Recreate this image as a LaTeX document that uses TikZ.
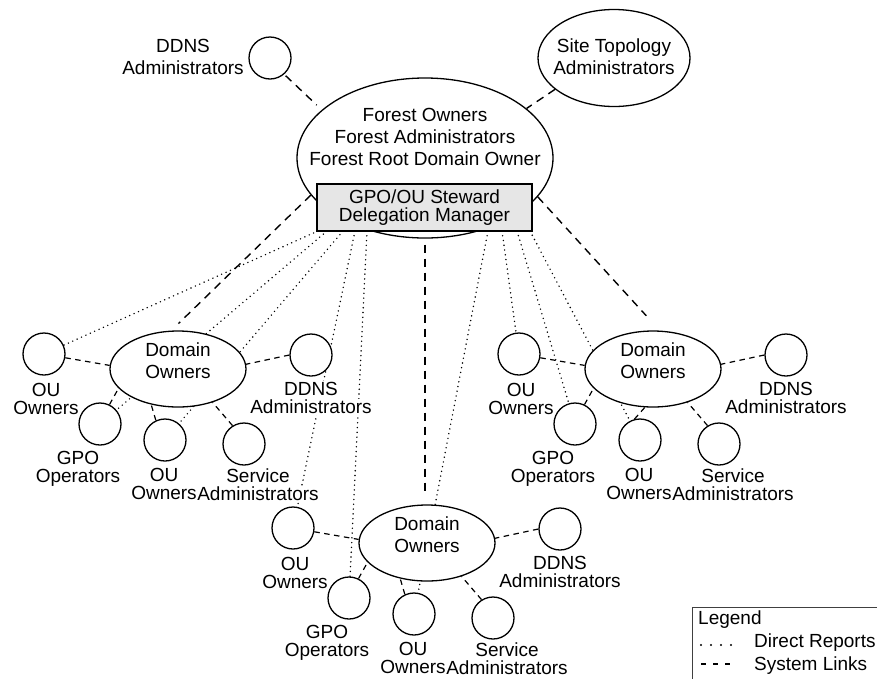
\documentclass[tikz,border=0pt]{standalone}
\usepackage{fontspec}
\setmainfont{Liberation Sans}
\usetikzlibrary{shapes.geometric}
\pgfdeclarelayer{bg}
\pgfsetlayers{bg,main}
\definecolor{boxfill}{HTML}{E6E6E6}
% one label line on a white patch, so dotted lines pass behind the text
\newcommand\wl[1]{{\fboxsep=1pt\colorbox{white}{#1}}}

\tikzset{
  shape line/.style={draw=black, line width=1.3pt, fill=white},
  circ/.style={shape line, circle, minimum size=42pt, inner sep=0pt},
  oval/.style={shape line, ellipse, inner sep=0pt},
  intext/.style={align=center, inner sep=0pt, font=\fontsize{19}{22}\selectfont},
  glabel/.style={align=center, inner sep=0pt, anchor=north, font=\fontsize{19}{18}\selectfont},
  report/.style={line width=1.6pt, line cap=round, dash pattern=on 0pt off 4.8pt},
  syslink/.style={line width=1.4pt, dash pattern=on 8pt off 6pt},
  grplink/.style={line width=1.2pt, dash pattern=on 5.5pt off 4.5pt},
}

% a domain: owners ellipse with its five satellite roles
% #1 name prefix, #2/#3 shift, #4/#5 anchors of the lower OU link
\newcommand\domgroup[5]{%
\begin{scope}[shift={(#2,#3)}]
  \node[oval, minimum width=136pt, minimum height=76pt] (#1dom) at (178,369) {};
  \node[intext, anchor=north] (#1domtext) at (178,343) {Domain\\Owners};
  \node[circ] (#1ouA) at (44,354) {};
  \node[circ] (#1gpo) at (100,424) {};
  \node[circ] (#1ouB) at (165,440) {};
  \node[circ] (#1svc) at (244,444) {};
  \node[circ] (#1ddns) at (311,355) {};
  \node[glabel] (#1ouAlbl) at (46,382) {\wl{OU}\\\wl{Owners}};
  \node[glabel] (#1gpolbl) at (78,450) {\wl{GPO}\\\wl{Operators}};
  \node[glabel] (#1ouBlbl) at (164,467) {\wl{OU}\\\wl{Owners}};
  \node[glabel] (#1svclbl) at (258,468) {\wl{Service}\\\wl{Administrators}};
  \node[glabel] (#1ddnslbl) at (311,381) {\wl{DDNS}\\\wl{Administrators}};
\end{scope}
\begin{pgfonlayer}{bg}
  \draw[grplink] (#1ouA.-10) -- (#1dom.177);
  \draw[grplink] (#1gpo.64) -- (#1dom.198);
  \draw[grplink] (#1ouB.#4) -- (#1dom.#5);
  \draw[grplink] (#1svc.122) -- (#1dom.316);
  \draw[grplink] (#1ddns.180) -- (#1dom.4);
\end{pgfonlayer}}

\begin{document}
\begin{tikzpicture}[x=1pt, y=-1pt]
\useasboundingbox (0,0) rectangle (877,678);

% forest level
\node[oval, minimum width=256pt, minimum height=160pt] (forest) at (425,158) {};
\node[intext, anchor=north] (foresttext) at (425,108)
  {Forest Owners\\Forest Administrators\\Forest Root Domain Owner};
\node[draw=black, line width=1.3pt, fill=boxfill, minimum width=215pt, minimum height=47pt,
      inner sep=0pt, align=center, font=\fontsize{19}{18.5}\selectfont]
  (steward) at (424.5,207.5) {GPO/OU Steward\\Delegation Manager};

\node[circ] (ddnsT) at (270,58) {};
\node[intext, anchor=north] (ddnsTlbl) at (183,39) {DDNS\\Administrators};
\node[oval, minimum width=152pt, minimum height=97pt] (site) at (614,58) {};
\node[intext, anchor=north] (sitetext) at (614,39) {Site Topology\\Administrators};

% domains
\domgroup{L}{0}{0}{115}{233}
\domgroup{R}{475}{0}{105}{258}
\domgroup{B}{249}{174}{115}{233}

% start points of the reporting lines on the steward box
\coordinate (s1) at (318,231);
\coordinate (s2) at (327,231);
\coordinate (s3) at (343,231);
\coordinate (s4) at (355,231);
\coordinate (s5) at (367,231);
\coordinate (s6) at (488,231);
\coordinate (s7) at (502,231);
\coordinate (s8) at (517,231);
\coordinate (s9) at (530,231);

\begin{pgfonlayer}{bg}
  \draw[report] (s1) -- (LouA);
  \draw[report] (s2) -- (Lgpo);
  \draw[report] (s3) -- (LouB);
  \draw[report] (s4) -- (BouA);
  \draw[report] (s5) -- (Bgpo);
  \draw[report] (s6) -- (BouB);
  \draw[report] (s7) -- (RouA);
  \draw[report] (s8) -- (Rgpo);
  \draw[report] (s9) -- (RouB);

  \draw[syslink, shorten <=2pt, shorten >=7pt] (ddnsT.-49) -- (forest.155);
  \draw[syslink] (site.208) -- (forest.26);
  \draw[syslink, shorten >=10pt] (forest.198) -- (Ldom.100);
  \draw[syslink, shorten >=20pt] (forest.-19) -- (Rdom.80);
  \draw[syslink, shorten <=6pt, shorten >=9pt] (forest.south) -- (forest.south |- Bdom.north);
\end{pgfonlayer}

% legend
\node[draw=black!75, line width=1pt, anchor=north west, minimum width=200pt,
      minimum height=90pt, inner sep=0pt] (legend) at (692,607) {};
\node[anchor=base west, inner sep=0pt, font=\fontsize{19}{22}\selectfont] (legtitle) at (698,624) {Legend};
\node[anchor=base west, inner sep=0pt, font=\fontsize{19}{22}\selectfont] (legrep) at (754,647) {Direct Reports};
\node[anchor=base west, inner sep=0pt, font=\fontsize{19}{22}\selectfont] (leglink) at (754,670) {System Links};
\coordinate (lr1) at (701,645);
\coordinate (lr2) at (733,645);
\coordinate (ll1) at (701,664);
\coordinate (ll2) at (731,664);
\draw[line width=2.2pt, line cap=round, dash pattern=on 0pt off 10pt] (lr1) -- (lr2);
\draw[line width=1.6pt, dash pattern=on 5pt off 7pt] (ll1) -- (ll2);
\end{tikzpicture}
\end{document}
